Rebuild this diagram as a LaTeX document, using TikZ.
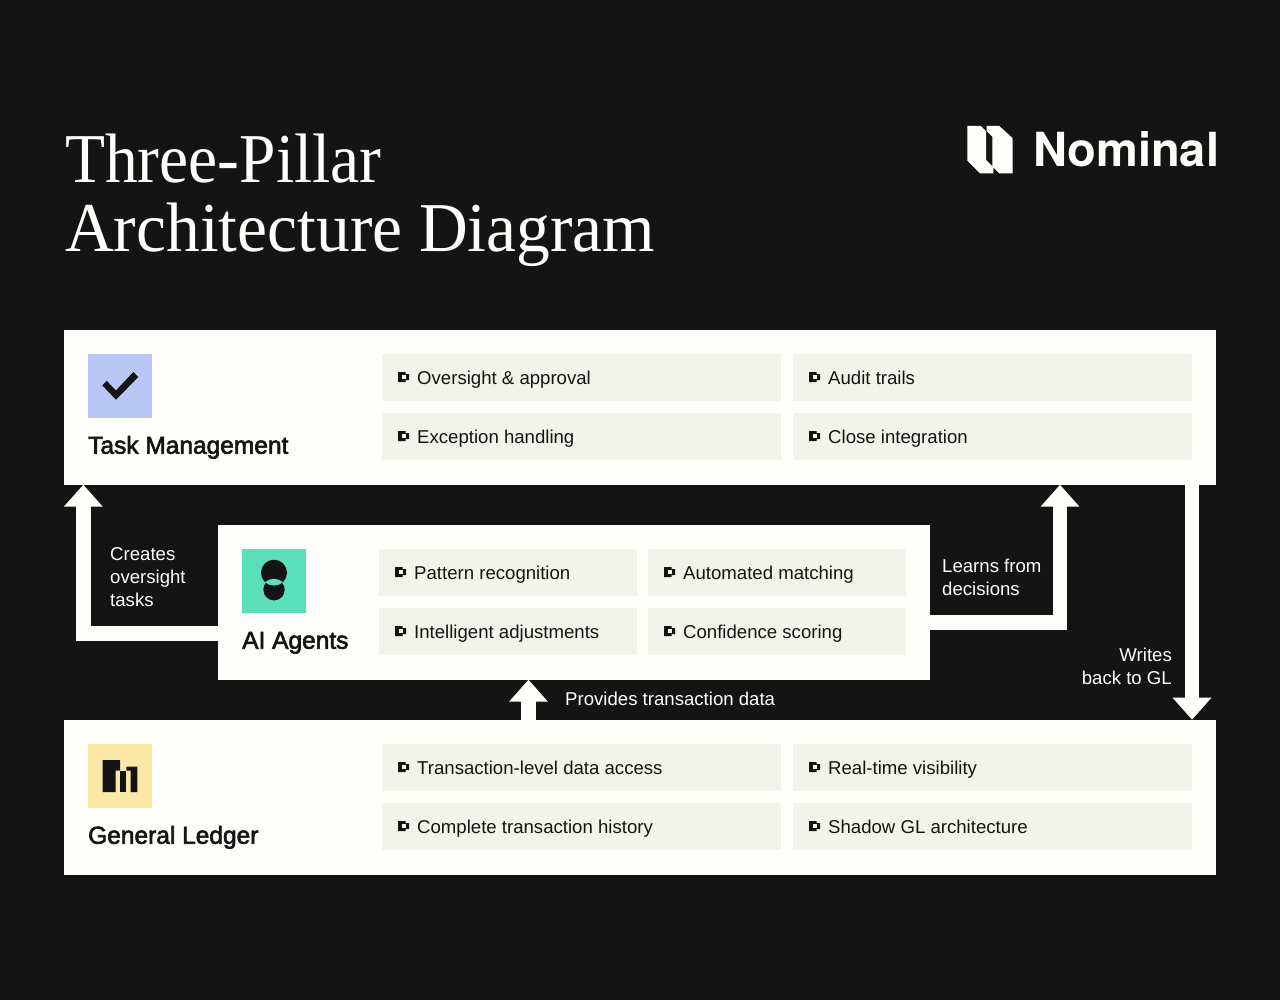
\documentclass[tikz,border=0pt]{standalone}
\usepackage{fontspec}
\usetikzlibrary{arrows.meta}
\setmainfont{Liberation Sans}
\newfontfamily\titlefonta[FakeStretch=0.935]{Liberation Serif}
\newfontfamily\titlefontb[FakeStretch=0.964]{Liberation Serif}
\newfontfamily\headfont[FakeBold=2.5]{Liberation Sans}
\newfontfamily\logofont{TeX Gyre Heros}
\definecolor{bgc}{HTML}{141414}
\definecolor{cardc}{HTML}{FEFFFA}
\definecolor{chipc}{HTML}{F2F4EC}
\definecolor{blueic}{HTML}{B8C7F5}
\definecolor{greenic}{HTML}{5BDFB8}
\definecolor{yellowic}{HTML}{FBE8A6}
\tikzset{
  x=1pt,y=-1pt,
  card/.style={fill=cardc,draw=none,inner sep=0,outer sep=0,minimum width=#1,minimum height=155,anchor=north west},
  chip/.style={fill=chipc,draw=none,inner sep=0,outer sep=0,minimum width=#1,minimum height=47,anchor=north west},
  iconbox/.style={draw=none,inner sep=0,outer sep=0,minimum size=64,anchor=north west},
  chiptext/.style={text=bgc,inner sep=0,anchor=base west,font=\fontsize{18.6}{18.6}\selectfont},
  headtext/.style={text=bgc,inner sep=0,anchor=base west,font=\headfont\fontsize{24.5}{24.5}\selectfont},
  flowtext/.style={text=cardc,inner sep=0,align=left,font=\fontsize{18.6}{23}\selectfont},
  flow/.style={draw=cardc,line width=14.5,-{Triangle[width=37.5pt,length=22pt]}},
}
\newcommand{\bullt}[2]{\fill[bgc] (#1-4,#2-5) -- (#1+3.7,#2-5) -- (#1+3.7,#2-3) -- (#1+7,#2-3) -- (#1+7,#2+3) -- (#1+3.7,#2+3) -- (#1+3.7,#2+5) -- (#1-4,#2+5) -- cycle;
\fill[chipc] (#1+.3,#2-2) rectangle (#1+3.7,#2+2);}
\newcommand{\chipp}[5]{\node[chip=#3] (#5) at (#1,#2) {};\bullt{#1+20}{#2+23.5}\node[chiptext] at (#1+35,#2+30.5) {#4};}
\begin{document}
\begin{tikzpicture}
\useasboundingbox (0,0) rectangle (1280,1000);
\fill[bgc] (0,0) rectangle (1280,1000);
% title
\node[text=cardc,inner sep=0,anchor=base west,font=\titlefonta\fontsize{70}{70}\selectfont] (t1) at (65,182.5) {Three-Pillar};
\node[text=cardc,inner sep=0,anchor=base west,font=\titlefontb\fontsize{70}{70}\selectfont] (t2) at (65,252) {Architecture Diagram};
% logo
\fill[cardc] (967.3,126) -- (980.7,126) -- (986,131) -- (986,160) -- (993.3,167) -- (993.3,173.3) -- (980,173.3) -- (967.3,160.7) -- cycle;
\fill[cardc] (986.7,126) -- (999.3,126) -- (1012.7,138.3) -- (1012.7,173.3) -- (999.3,173.3) -- (992.3,166.7) -- (992.3,136.7) -- (986.7,131) -- cycle;
\node[text=cardc,inner sep=0,anchor=base west,font=\logofont\bfseries\fontsize{47}{47}\selectfont] (logo) at (1033,167) {Nominal};
\begin{scope}[yshift=.3pt]
% cards
\node[card=1152] (tm) at (64,330) {};
\node[card=712] (ai) at (218,525) {};
\node[card=1152] (gl) at (64,720) {};
% connector anchors
\coordinate (aiL) at (218,634);
\coordinate (tmL) at (83.3,485);
\coordinate (aiR) at (930,623);
\coordinate (tmR) at (1060,485);
\coordinate (glU) at (528.5,720);
\coordinate (aiB) at (528.5,680);
\coordinate (tmD) at (1192,485);
\coordinate (glD) at (1192,720);
\draw[flow] (aiL) -| (tmL);
\draw[flow] (aiR) -| (tmR);
\draw[flow] (glU) -- (aiB);
\draw[flow] (tmD) -- (glD);
% flow labels
\node[flowtext,anchor=base west] (l1) at (110,606.5) {Creates\\oversight\\tasks};
\node[flowtext,anchor=base west] (l2) at (942,595.5) {Learns from\\decisions};
\node[flowtext,anchor=base west] (l3) at (565,705.5) {Provides transaction data};
\node[flowtext,anchor=base east,align=right] (l4) at (1172,685) {Writes\\back to GL};
% Task Management
\node[iconbox,fill=blueic] (ic1) at (88,354) {};
\fill[bgc] (102.3,385.7) -- (106.7,381.2) -- (116,390.7) -- (133.3,372.3) -- (138.3,377.3) -- (116,400) -- cycle;
\node[headtext] (h1) at (88,454) {Task Management};
\chipp{382}{354}{399}{Oversight \& approval}{c1}
\chipp{793}{354}{399}{Audit trails}{c2}
\chipp{382}{413}{399}{Exception handling}{c3}
\chipp{793}{413}{399}{Close integration}{c4}
% AI agents
\node[iconbox,fill=greenic] (ic2) at (242,549) {};
\fill[bgc] (274,573) circle (13);
\fill[bgc] (274,590) circle (10.7);
\fill[greenic] (265,582.5) .. controls (270,578) and (278,578) .. (283,582.5) .. controls (278,587) and (270,587) .. (265,582.5) -- cycle;
\node[headtext] (h2) at (242,649) {AI Agents};
\chipp{379}{549}{258}{Pattern recognition}{c5}
\chipp{648}{549}{258}{Automated matching}{c6}
\chipp{379}{608}{258}{Intelligent adjustments}{c7}
\chipp{648}{608}{258}{Confidence scoring}{c8}
% General Ledger
\node[iconbox,fill=yellowic] (ic3) at (88,744) {};
\fill[bgc] (102.7,760.3) -- (120,760.3) -- (120,771) -- (115.7,771) -- (115.7,792.3) -- (102.7,792.3) -- cycle;
\fill[bgc] (120,771) rectangle (126.3,792.3);
\fill[bgc] (126.3,767) -- (137.3,767) -- (137.3,792.3) -- (130.7,792.3) -- (130.7,771) -- (126.3,771) -- cycle;
\node[headtext] (h3) at (88,844) {General Ledger};
\chipp{382}{744}{399}{Transaction-level data access}{c9}
\chipp{793}{744}{399}{Real-time visibility}{c10}
\chipp{382}{803}{399}{Complete transaction history}{c11}
\chipp{793}{803}{399}{Shadow GL architecture}{c12}
\end{scope}
\end{tikzpicture}
\end{document}
